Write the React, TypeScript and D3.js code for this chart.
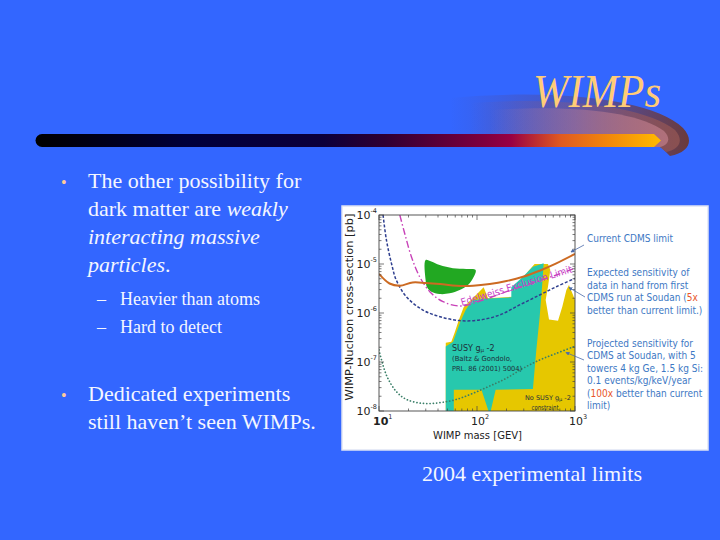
import React from 'react';
import * as d3 from 'd3';

type P = [number, number];

// axis domains / ticks
const massDomain: [number, number] = [10, 1000];
const sigmaDomain: [number, number] = [1e-8, 1e-4];
const massTickExps = [1, 2, 3];
const sigmaTickExps = [-4, -5, -6, -7, -8];

// curves: [WIMP mass GeV, cross-section pb]
const currentCdms: P[] = [[10, 6.3e-6], [12.8, 4.0e-6], [16.3, 3.6e-6], [22, 4.2e-6], [30, 4.1e-6], [42, 3.9e-6], [62, 3.6e-6], [91, 3.6e-6], [135, 3.9e-6], [200, 4.5e-6], [295, 5.5e-6], [435, 7.3e-6], [645, 1.03e-5], [1000, 1.6e-5]];
const expectedSoudan: P[] = [[11, 1e-4], [11.9, 3.1e-5], [13.4, 1.03e-5], [15, 4.7e-6], [19, 2.15e-6], [28, 1.15e-6], [42, 8.4e-7], [66, 7.0e-7], [106, 7.2e-7], [170, 9.1e-7], [272, 1.46e-6], [436, 2.33e-6], [645, 3.44e-6], [1000, 5.1e-6]];
const edelweiss: P[] = [[16.3, 1e-4], [18.3, 4.2e-5], [21.4, 1.41e-5], [26, 5.5e-6], [33, 2.72e-6], [45, 1.7e-6], [69, 1.39e-6], [115, 1.84e-6], [199, 2.72e-6], [372, 4.16e-6], [645, 5.97e-6], [1000, 8.2e-6]];
const projectedSoudan: P[] = [[10, 1.76e-7], [11.9, 5.4e-8], [15, 2.5e-8], [19, 1.73e-8], [28, 1.43e-8], [42, 1.48e-8], [62, 1.73e-8], [91, 2.3e-8], [135, 3.24e-8], [199, 4.65e-8], [294, 7.4e-8], [436, 1.1e-7], [645, 1.5e-7], [1000, 2.1e-7]];

// regions
const greenBlob: P[] = [[29.9, 1.21e-5], [34.2, 1.12e-5], [41.6, 9.5e-6], [56.9, 8.2e-6], [77.8, 7.9e-6], [96.8, 7.55e-6], [91, 5.1e-6], [80.9, 3.72e-6], [66.5, 2.94e-6], [52.6, 2.52e-6], [41.6, 2.44e-6], [34.2, 2.72e-6], [30.9, 3.34e-6], [29.9, 4.71e-6]];
const noSusyYellow: P[] = [[48, 1e-8], [48, 2.48e-7], [54.7, 2.6e-7], [59.1, 3.97e-7], [65.5, 7.4e-7], [73.1, 1.31e-6], [85.5, 1.79e-6], [100, 2.44e-6], [117, 3.34e-6], [129.5, 1.99e-6], [233, 2.15e-6], [272, 3.44e-6], [331, 7.0e-6], [387, 1.0e-5], [530, 1.0e-5], [560, 7.55e-6], [530, 3.44e-6], [502, 1.84e-6], [543, 7.4e-7], [671, 6.98e-7], [743, 1.35e-6], [817, 2.95e-6], [868, 3.72e-6], [955, 2.33e-6], [1000, 1.84e-6], [1000, 1e-8]];
const susyTeal: P[] = [[48, 1e-8], [48, 2.06e-7], [57, 2.6e-7], [61.5, 3.97e-7], [67.6, 6.65e-7], [76.6, 1.15e-6], [88.9, 1.79e-6], [115, 1.96e-6], [224, 2.09e-6], [224, 3.34e-6], [283, 5.1e-6], [372, 8.8e-6], [479, 1.03e-5], [464, 4.03e-6], [436, 8.4e-7], [403, 1.76e-7], [372, 2.8e-8], [155, 2.7e-8], [138, 1e-8], [131, 1e-8], [111, 2.7e-8], [58, 2.7e-8], [58, 1e-8]];

// slide text
const titleText = 'WIMPs';
const captionText = '2004 experimental limits';
const subBullets = ['Heavier than atoms', 'Hard to detect'];
const bullet2Lines = ['Dedicated experiments', 'still haven\u2019t seen WIMPs.'];

// annotations
const currentNote = 'Current CDMS limit';
const expectedNote: [string, string][][] = [
  [['Expected sensitivity of', '']],
  [['data in hand from first', '']],
  [['CDMS run at Soudan (', ''], ['5x', 'hi']],
  [['better than current limit.)', '']],
];
const projectedNote: [string, string][][] = [
  [['Projected sensitivity for', '']],
  [['CDMS at Soudan, with 5', '']],
  [['towers 4 kg Ge, 1.5 kg Si:', '']],
  [['0.1 events/kg/keV/year', '']],
  [['(', ''], ['100x', 'hi'], [' better than current', '']],
  [['limit)', '']],
];

const serif = '"Liberation Serif", "Times New Roman", serif';
const sans = '"DejaVu Sans", "Liberation Sans", sans-serif';

export default function App() {
  const x = d3.scaleLog().domain(massDomain).range([379, 575]);
  const y = d3.scaleLog().domain(sigmaDomain).range([411, 215]);
  const line = d3.line<P>().x(d => x(d[0])).y(d => y(d[1])).curve(d3.curveCatmullRom.alpha(0.5));
  const poly = d3.line<P>().x(d => x(d[0])).y(d => y(d[1])).curve(d3.curveLinearClosed);
  const blob = d3.line<P>().x(d => x(d[0])).y(d => y(d[1])).curve(d3.curveCatmullRomClosed.alpha(0.5));

  const [x0, x1] = x.range();
  const [y0, y1] = y.range(); // y0 bottom, y1 top
  const xt = x.ticks();
  const yt = y.ticks();
  const isMajor = (v: number) => Math.abs(Math.log10(v) - Math.round(Math.log10(v))) < 1e-6;

  const annColor = '#3d78c4';
  const hiColor = '#e8552a';
  const annScale = 0.82;

  return (
    <svg width={720} height={540} style={{ position: 'fixed', left: 0, top: 0 }} xmlns="http://www.w3.org/2000/svg">
      <defs>
        <linearGradient id="bar" x1="0" x2="1" y1="0" y2="0">
          <stop offset="0" stopColor="#000000" />
          <stop offset="0.24" stopColor="#00003a" />
          <stop offset="0.46" stopColor="#0c003a" />
          <stop offset="0.56" stopColor="#300032" />
          <stop offset="0.72" stopColor="#80003e" />
          <stop offset="0.76" stopColor="#990044" />
          <stop offset="0.84" stopColor="#e05a20" />
          <stop offset="0.92" stopColor="#f38a0a" />
          <stop offset="1" stopColor="#ffbb00" />
        </linearGradient>
        <linearGradient id="swooshOuter" x1="0" x2="1" y1="0" y2="0">
          <stop offset="0" stopColor="#6a3a50" stopOpacity="0" />
          <stop offset="0.5" stopColor="#6a3a55" stopOpacity="0.35" />
          <stop offset="1" stopColor="#6b3a3a" stopOpacity="1" />
        </linearGradient>
        <linearGradient id="swooshMid" x1="0" x2="1" y1="0" y2="0">
          <stop offset="0" stopColor="#8a5070" stopOpacity="0" />
          <stop offset="0.5" stopColor="#8e5a78" stopOpacity="0.4" />
          <stop offset="1" stopColor="#8a5050" stopOpacity="1" />
        </linearGradient>
        <linearGradient id="swooshInner" x1="0" x2="1" y1="0" y2="0">
          <stop offset="0" stopColor="#b07aa0" stopOpacity="0" />
          <stop offset="0.5" stopColor="#b07898" stopOpacity="0.5" />
          <stop offset="1" stopColor="#b0707a" stopOpacity="1" />
        </linearGradient>
        <clipPath id="plotClip">
          <rect x={x0} y={y1} width={x1 - x0} height={y0 - y1} />
        </clipPath>
        <marker id="arr" viewBox="0 0 6 6" refX="5" refY="3" markerWidth="5" markerHeight="5" orient="auto">
          <path d="M0,0 L6,3 L0,6 Z" fill="#4a6aaa" />
        </marker>
      </defs>

      {/* slide background */}
      <rect x={0} y={0} width={720} height={540} fill="#3366ff" />

      {/* swoosh */}
      <path d="M450,98 C560,88 655,100 683,128 C694,140 690,152 670,156 C664,150 662,148 660,147 L450,147 Z" fill="url(#swooshOuter)" />
      <path d="M470,103 C570,96 648,108 675,130 C684,140 680,149 666,152 L660,147 L470,147 Z" fill="url(#swooshMid)" />
      <path d="M490,110 C580,104 640,113 664,131 C671,138 669,145 660,147 L490,147 Z" fill="url(#swooshInner)" />

      {/* title */}
      <text x={533} y={107} fontFamily={serif} fontStyle="italic" fontSize={46} fill="#ffcc77" textLength={128} lengthAdjust="spacingAndGlyphs">{titleText}</text>

      {/* gradient bar */}
      <path d="M42,134 L654,134 L661,140.5 L654,147 L42,147 A6.5,6.5 0 0 1 42,134 Z" fill="url(#bar)" />

      {/* bullets */}
      <g fontFamily={serif} fill="#f4f6ff">
        <text x={61} y={188} fontSize={16} fill="#ffcc99">{'\u2022'}</text>
        <text x={88} y={188} fontSize={22}>The other possibility for</text>
        <text x={88} y={216} fontSize={22}>dark matter are <tspan fontStyle="italic">weakly</tspan></text>
        <text x={88} y={244} fontSize={22} fontStyle="italic">interacting massive</text>
        <text x={88} y={272} fontSize={22}><tspan fontStyle="italic">particles</tspan>.</text>
        {subBullets.map((s, i) => (
          <g key={s}>
            <text x={97} y={305 + i * 28} fontSize={18}>{'\u2013'}</text>
            <text x={120} y={305 + i * 28} fontSize={18}>{s}</text>
          </g>
        ))}
        <text x={61} y={401} fontSize={16} fill="#ffcc99">{'\u2022'}</text>
        {bullet2Lines.map((s, i) => (
          <text key={s} x={88} y={401 + i * 28} fontSize={22}>{s}</text>
        ))}
        <text x={422} y={481} fontSize={22}>{captionText}</text>
      </g>

      {/* chart image box */}
      <rect x={342} y={206} width={366} height={244} fill="#ffffff" stroke="#dfe4f4" strokeWidth={1.5} />

      {/* regions */}
      <g clipPath="url(#plotClip)">
        <path d={poly(noSusyYellow) || ''} fill="#e6c700" />
        <path d={poly(susyTeal) || ''} fill="#27c8ad" />
        <path d={blob(greenBlob) || ''} fill="#22a822" />
        <path d={line(projectedSoudan) || ''} fill="none" stroke="#3a7f68" strokeWidth={1.7} strokeDasharray="0.1,3.2" strokeLinecap="round" />
        <path d={line(expectedSoudan) || ''} fill="none" stroke="#2f3f8f" strokeWidth={1.5} strokeDasharray="3,1.8" />
        <path d={line(edelweiss) || ''} fill="none" stroke="#c842b8" strokeWidth={1.4} strokeDasharray="7,2.5,1.5,2.5" />
        <path d={line(currentCdms) || ''} fill="none" stroke="#cc6a22" strokeWidth={2} />
      </g>

      {/* Edelweiss label */}
      <text transform="translate(462,306) rotate(-17)" fontFamily={sans} fontSize={10} fill="#c842c8" textLength={116} lengthAdjust="spacingAndGlyphs">Edelweiss Exclusion Limit</text>

      {/* region labels */}
      <g fontFamily={sans} fill="#1d2f3a">
        <text x={452} y={351} fontSize={8}>SUSY g<tspan fontSize={5.5} dy={1.3}>{'\u03bc'}</tspan><tspan dy={-1.3}> -2</tspan></text>
        <text x={452} y={361} fontSize={7} textLength={60} lengthAdjust="spacingAndGlyphs">(Baltz &amp; Gondolo,</text>
        <text x={452} y={370.5} fontSize={7} textLength={70} lengthAdjust="spacingAndGlyphs">PRL. 86 (2001) 5004)</text>
        <text x={525} y={400} fontSize={6.5}>No SUSY g<tspan fontSize={5} dy={1.2}>{'\u03bc'}</tspan><tspan dy={-1.2}> -2</tspan></text>
        <text x={531.5} y={409.8} fontSize={7} textLength={27} lengthAdjust="spacingAndGlyphs">constraint</text>
      </g>

      {/* frame and ticks */}
      <rect x={x0} y={y1} width={x1 - x0} height={y0 - y1} fill="none" stroke="#444" strokeWidth={0.9} />
      <g stroke="#444" strokeWidth={0.7}>
        {xt.map((v, i) => {
          const L = isMajor(v) ? 5 : 2.5;
          return (
            <g key={'x' + i}>
              <line x1={x(v)} x2={x(v)} y1={y0} y2={y0 - L} />
              <line x1={x(v)} x2={x(v)} y1={y1} y2={y1 + L} />
            </g>
          );
        })}
        {yt.map((v, i) => {
          const L = isMajor(v) ? 5 : 2.5;
          return (
            <g key={'y' + i}>
              <line x1={x0} x2={x0 + L} y1={y(v)} y2={y(v)} />
              <line x1={x1} x2={x1 - L} y1={y(v)} y2={y(v)} />
            </g>
          );
        })}
      </g>

      {/* tick labels */}
      <g fontFamily={sans} fill="#222">
        {sigmaTickExps.map(e => (
          <text key={e} x={377} y={y(Math.pow(10, e)) + 4} fontSize={11} textAnchor="end">10<tspan fontSize={6.5} dy={-6}>{e}</tspan></text>
        ))}
        {massTickExps.map(e => (
          <text key={e} x={x(Math.pow(10, e)) - 6} y={425} fontSize={11} fontWeight={e === 1 ? 'bold' : 'normal'}>10<tspan fontSize={6.5} dy={-6} fontWeight="normal">{e}</tspan></text>
        ))}
        <text x={477.5} y={439} fontSize={11} textAnchor="middle" textLength={89} lengthAdjust="spacingAndGlyphs">WIMP mass [GEV]</text>
        <text transform="translate(353,307) rotate(-90)" fontSize={10.5} textAnchor="middle" textLength={187} lengthAdjust="spacingAndGlyphs">WIMP-Nucleon cross-section [pb]</text>
      </g>

      {/* annotations */}
      <g fontFamily={sans} fontSize={11} fill={annColor} transform={`translate(587,0) scale(${annScale},1)`}>
        <text x={0} y={242}>{currentNote}</text>
        {expectedNote.map((ln, i) => (
          <text key={'e' + i} x={0} y={276 + i * 12.6}>
            {ln.map((p, j) => <tspan key={j} fill={p[1] === 'hi' ? hiColor : annColor}>{p[0]}</tspan>)}
          </text>
        ))}
        {projectedNote.map((ln, i) => (
          <text key={'p' + i} x={0} y={347 + i * 12.5}>
            {ln.map((p, j) => <tspan key={j} fill={p[1] === 'hi' ? hiColor : annColor}>{p[0]}</tspan>)}
          </text>
        ))}
      </g>
      <g stroke="#4a6aaa" strokeWidth={0.8} fill="none">
        <line x1={584} y1={245} x2={571} y2={252} markerEnd="url(#arr)" />
        <line x1={585} y1={297} x2={569} y2={287.5} markerEnd="url(#arr)" />
        <line x1={584} y1={360} x2={566} y2={352.5} markerEnd="url(#arr)" />
      </g>
    </svg>
  );
}
